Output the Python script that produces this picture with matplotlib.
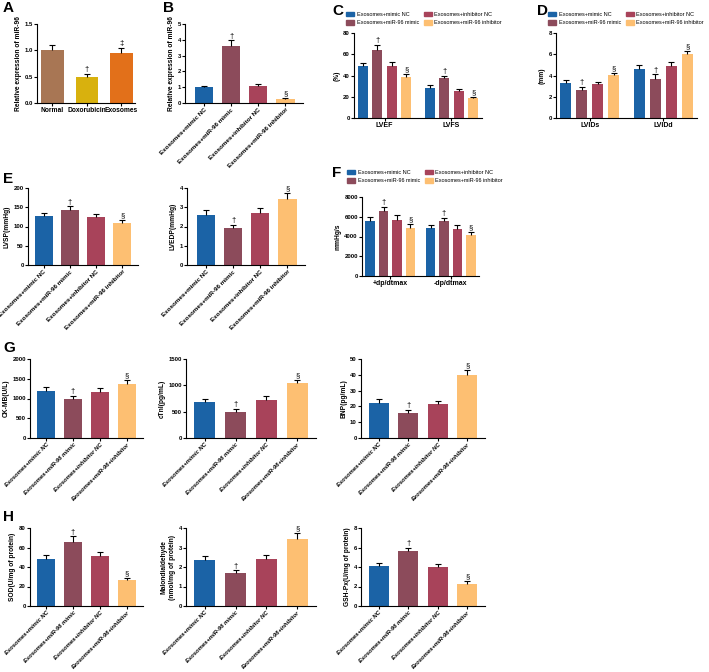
import matplotlib
matplotlib.use("Agg")
import matplotlib.pyplot as plt
from matplotlib.patches import Patch

plt.rcParams['font.family'] = ['Liberation Sans', 'DejaVu Sans']
plt.rcParams['font.weight'] = 'bold'
plt.rcParams['axes.labelweight'] = 'bold'

W, H = 709, 672
fig = plt.figure(figsize=(W / 100, H / 100), dpi=100)

# ---- data ----
grp = ["Exosomes+mimic NC", "Exosomes+miR-96 mimic", "Exosomes+inhibitor NC", "Exosomes+miR-96 inhibitor"]
grp_gh = ["Exosomes+mimic NC", "Exosomes+miR-96 mimic", "Exosomes+inhibitor NC", "Exosomes+miR-96+inhibitor"]
cols4 = ["#1b63a6", "#8c4b5b", "#a8435a", "#fdbf72"]
marks4 = ["", "†", "", "§"]

a_names = ["Normal", "Doxorubicin", "Exosomes"]
a_vals = [1.0, 0.5, 0.95]
a_err = [0.1, 0.05, 0.1]
a_marks = ["", "†", "‡"]
a_cols = ["#a87654", "#d8b10e", "#e2701a"]

b_vals = [1.0, 3.62, 1.08, 0.28]
b_err = [0.1, 0.35, 0.12, 0.05]

c_groups = ["LVEF", "LVFS"]
c_vals = [[49, 64, 48.5, 39], [28, 38, 25.5, 18.5]]
c_err = [[3, 5, 4, 2], [3.5, 2, 2, 1.5]]

d_groups = ["LVIDs", "LVIDd"]
d_vals = [[3.3, 2.6, 3.2, 4.05], [4.6, 3.7, 4.9, 6.0]]
d_err = [[0.3, 0.3, 0.2, 0.2], [0.4, 0.4, 0.4, 0.35]]

e_lvsp = [127, 142, 124, 108]
e_lvsp_err = [8, 10, 8, 8]
e_lvedp = [2.6, 1.9, 2.7, 3.45]
e_lvedp_err = [0.25, 0.2, 0.25, 0.3]

f_groups = ["+dp/dtmax", "-dp/dtmax"]
f_vals = [[5600, 6600, 5700, 4900], [4850, 5600, 4800, 4150]]
f_err = [[400, 400, 450, 350], [300, 300, 350, 300]]

g_ckmb = [1180, 980, 1160, 1370]
g_ckmb_err = [100, 80, 110, 100]
g_ctni = [690, 490, 720, 1040]
g_ctni_err = [50, 60, 80, 70]
g_bnp = [22, 16, 21.5, 40]
g_bnp_err = [2.5, 2, 2, 3]

h_sod = [48, 66, 51, 26.5]
h_sod_err = [4.5, 5.5, 4.5, 2]
h_mda = [2.35, 1.68, 2.42, 3.42]
h_mda_err = [0.22, 0.15, 0.22, 0.3]
h_gsh = [4.1, 5.65, 4.0, 2.3]
h_gsh_err = [0.3, 0.35, 0.3, 0.25]


def box(l, t, r, b):
    return fig.add_axes([l / W, 1 - b / H, (r - l) / W, (b - t) / H])


def style(ax, ylim, yticks, ylabel, fmt="{:g}"):
    for s in ["top", "right"]:
        ax.spines[s].set_visible(False)
    for s in ["left", "bottom"]:
        ax.spines[s].set_linewidth(0.8)
    ax.set_ylim(*ylim)
    ax.set_yticks(yticks)
    ax.set_yticklabels([fmt.format(t) for t in yticks], fontsize=4.3)
    ax.tick_params(length=2, width=0.8, pad=1)
    ax.set_ylabel(ylabel, fontsize=4.8, labelpad=2)


def errs(ax, x, vals, err):
    eb = ax.errorbar(x, vals, yerr=[[0] * len(vals), err], fmt='none', ecolor='black',
                     elinewidth=0.8, capsize=2.2, capthick=0.8)
    eb[1][0].set_visible(False)


def marks(ax, x, vals, err, mk):
    for xi, v, e, m in zip(x, vals, err, mk):
        if m:
            ax.annotate(m, (xi, v + e), xytext=(0, 0.5), textcoords='offset points',
                        ha='center', va='bottom', fontsize=5.5, fontweight='normal')


def simple(b, vals, err, mk, ylim, yticks, ylabel, labels, italic=False, xlim=(-0.6, 3.6), fs=4.5):
    ax = box(*b)
    x = list(range(len(vals)))
    ax.bar(x, vals, width=0.68, color=cols4)
    errs(ax, x, vals, err)
    marks(ax, x, vals, err, mk)
    style(ax, ylim, yticks, ylabel)
    ax.set_xlim(*xlim)
    ax.set_xticks(x)
    ax.set_xticklabels(labels, rotation=45, ha='right', rotation_mode='anchor', fontsize=fs,
                       style='italic' if italic else 'normal')
    return ax


def grouped(b, groups, vals, err, ylim, yticks, ylabel, leg_xy, gap=4.6):
    ax = box(*b)
    for g in range(2):
        x = [g * gap + i - 1.5 for i in range(4)]
        ax.bar(x, vals[g], width=0.68, color=cols4)
        errs(ax, x, vals[g], err[g])
        marks(ax, x, vals[g], err[g], marks4)
    style(ax, ylim, yticks, ylabel)
    ax.set_xlim(-2.1, gap + 2.1)
    ax.set_xticks([0, gap])
    ax.set_xticklabels(groups, fontsize=5)
    handles = [Patch(color=c) for c in cols4]
    fig.legend(handles, grp, ncol=2, loc='upper left',
               bbox_to_anchor=(leg_xy[0] / W, 1 - leg_xy[1] / H), frameon=False,
               prop={'size': 4.0, 'weight': 'normal'}, handlelength=1.4, handleheight=0.8,
               columnspacing=0.9, borderpad=0, borderaxespad=0, labelspacing=0.6,
               handletextpad=0.5)
    return ax


def letter(x, y, s):
    fig.text(x / W, 1 - y / H, s, fontsize=11, fontweight='bold', va='top', ha='left')


# ---- A ----
letter(3, 1, "A")
axA = box(37, 24, 135, 103)
xa = list(range(3))
axA.bar(xa, a_vals, width=0.66, color=a_cols)
errs(axA, xa, a_vals, a_err)
marks(axA, xa, a_vals, a_err, a_marks)
style(axA, (0, 1.5), [0, 0.5, 1.0, 1.5], "Relative expression of miR-96", fmt="{:.1f}")
axA.set_xlim(-0.45, 2.4)
axA.set_xticks(xa)
axA.set_xticklabels(a_names, fontsize=4.8)

# ---- B ----
letter(163, 1, "B")
simple((185, 24, 303, 103), b_vals, b_err, marks4, (0, 5), [0, 1, 2, 3, 4, 5],
       "Relative expression of miR-96", grp, xlim=(-0.7, 3.65))

# ---- C ----
letter(332, 4, "C")
grouped((354, 33, 482, 118), c_groups, c_vals, c_err, (0, 80), [0, 20, 40, 60, 80], "(%)", (346, 12))

# ---- D ----
letter(537, 4, "D")
grouped((556, 33, 697, 118), d_groups, d_vals, d_err, (0, 8), [0, 2, 4, 6, 8], "(mm)", (548, 12))

# ---- E ----
letter(3, 172, "E")
simple((28, 188, 138, 265), e_lvsp, e_lvsp_err, marks4, (0, 200), [0, 50, 100, 150, 200],
       "LVSP(mmHg)", grp)
simple((187, 188, 305, 265), e_lvedp, e_lvedp_err, marks4, (0, 4), [0, 1, 2, 3, 4],
       "LVEDP(mmHg)", grp, xlim=(-0.7, 3.65))

# ---- F ----
letter(332, 166, "F")
grouped((362, 197, 479, 276), f_groups, f_vals, f_err, (0, 8000), [0, 2000, 4000, 6000, 8000],
        "mmHg/s", (347, 170), gap=4.5)

# ---- G ----
letter(3, 341, "G")
simple((30, 359, 143, 438), g_ckmb, g_ckmb_err, marks4, (0, 2000), [0, 500, 1000, 1500, 2000],
       "CK-MB(U/L)", grp_gh, italic=True, fs=4.2)
simple((186, 359, 316, 438), g_ctni, g_ctni_err, marks4, (0, 1500), [0, 500, 1000, 1500],
       "cTnI(pg/mL)", grp_gh, italic=True, fs=4.2)
simple((361, 359, 485, 438), g_bnp, g_bnp_err, marks4, (0, 50), [0, 10, 20, 30, 40, 50],
       "BNP(pg/mL)", grp_gh, italic=True, fs=4.2)

# ---- H ----
letter(3, 510, "H")
simple((30, 528, 143, 606), h_sod, h_sod_err, marks4, (0, 80), [0, 20, 40, 60, 80],
       "SOD(U/mg of protein)", grp_gh, italic=True, fs=4.2)
simple((186, 528, 316, 606), h_mda, h_mda_err, marks4, (0, 4), [0, 1, 2, 3, 4],
       "Malondialdehyde\n(nmol/mg of protein)", grp_gh, italic=True, fs=4.2)
simple((361, 528, 485, 606), h_gsh, h_gsh_err, marks4, (0, 8), [0, 2, 4, 6, 8],
       "GSH-Px(U/mg of protein)", grp_gh, italic=True, fs=4.2)

fig.savefig("out.png", dpi=100)
